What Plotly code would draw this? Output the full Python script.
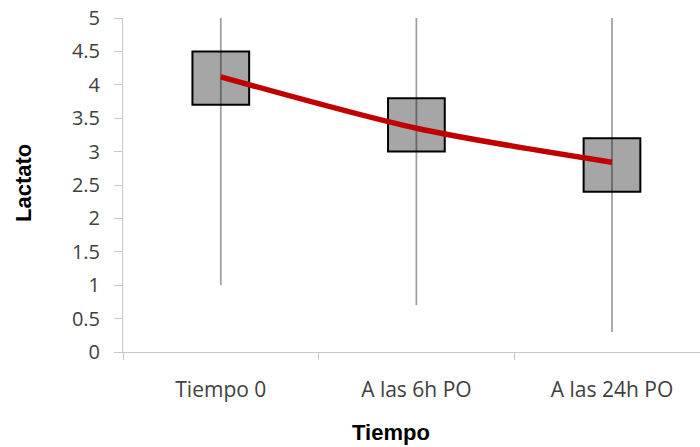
import plotly.graph_objects as go

categories = ["Tiempo 0", "A las 6h PO", "A las 24h PO"]
open_vals = [3.7, 3.0, 2.4]
close_vals = [4.5, 3.8, 3.2]
low_vals = [1.0, 0.7, 0.3]
high_vals = [5.0, 5.0, 5.0]
trend_vals = [4.12, 3.35, 2.84]
y_ticks = [0, 0.5, 1, 1.5, 2, 2.5, 3, 3.5, 4, 4.5, 5]
y_tick_text = ["0", "0.5", "1", "1.5", "2", "2.5", "3", "3.5", "4", "4.5", "5"]

W, H = 700, 447
L, T, R, B = 123, 18, 0, 447 - 352

fig = go.Figure()

# boxes (up/down bars)
fig.add_trace(go.Bar(
    x=categories,
    base=open_vals,
    y=[c - o for c, o in zip(close_vals, open_vals)],
    width=0.29,
    marker=dict(color="#a6a6a6", line=dict(color="#000000", width=2)),
    hoverinfo="skip",
))

# high-low lines
wx, wy = [], []
for c, lo, hi in zip(categories, low_vals, high_vals):
    wx += [c, c, None]
    wy += [lo, hi, None]
fig.add_trace(go.Scatter(
    x=wx, y=wy, mode="lines",
    line=dict(color="rgba(0,0,0,0.38)", width=1.75),
    hoverinfo="skip", connectgaps=False, cliponaxis=False,
))

# trend line
fig.add_trace(go.Scatter(
    x=categories, y=trend_vals, mode="lines",
    line=dict(color="#c00000", width=5.5, shape="spline", smoothing=0.8),
    hoverinfo="skip",
))

fig.update_layout(
    width=W, height=H,
    margin=dict(l=L, r=R, t=T, b=B, autoexpand=False),
    paper_bgcolor="white", plot_bgcolor="white",
    showlegend=False,
    xaxis=dict(
        type="category",
        categoryorder="array", categoryarray=categories,
        range=[-0.5, 2.45],
        automargin=False,
        showline=True, linecolor="#c8c8c8", linewidth=1,
        ticks="outside", tickson="boundaries", ticklen=7, tickcolor="#c8c8c8",
        showgrid=False, zeroline=False,
        tickfont=dict(family="Open Sans, sans-serif", size=21, color="#404040"),
        ticklabelstandoff=19,
        ticklabeloverflow="allow",
    ),
    yaxis=dict(
        range=[0, 5],
        automargin=False,
        tickvals=y_ticks, ticktext=y_tick_text,
        showline=True, linecolor="#c8c8c8", linewidth=1,
        ticks="outside", ticklen=8, tickcolor="#c8c8c8",
        showgrid=False, zeroline=False,
        tickfont=dict(family="Open Sans, sans-serif", size=20, color="#404040"),
        ticklabelstandoff=10,
        ticklabeloverflow="allow",
    ),
)

pw = W - L - R
ph = H - T - B
def px_to_paper(px, py):
    return (px - L) / pw, (H - B - py) / ph

tx, ty = px_to_paper(391, 432)
fig.add_annotation(text="<b>Tiempo</b>", xref="paper", yref="paper",
                   x=tx, y=ty, xanchor="center", yanchor="middle", showarrow=False,
                   font=dict(family="Liberation Sans, Arial, sans-serif", size=22, color="#000000"))
lx, ly = px_to_paper(24, 183)
fig.add_annotation(text="<b>Lactato</b>", xref="paper", yref="paper",
                   x=lx, y=ly, textangle=-90, xanchor="center", yanchor="middle", showarrow=False,
                   font=dict(family="Liberation Sans, Arial, sans-serif", size=22, color="#000000"))

fig.write_html(
    "out.html",
    config={"displayModeBar": False, "staticPlot": True},
    post_script="document.body.style.margin='0';document.body.style.overflow='hidden';",
)
